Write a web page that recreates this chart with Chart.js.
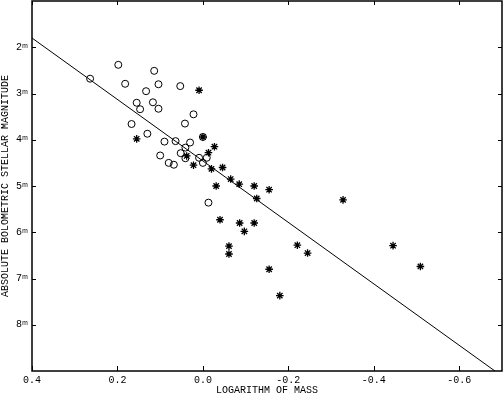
<!DOCTYPE html>
<html><head><meta charset="utf-8">
<script src="https://cdn.jsdelivr.net/npm/chart.js@4/dist/chart.umd.min.js"></script>
<style>html,body{margin:0;padding:0;background:#fff}#wrap{width:503px;height:396px;position:relative}</style>
</head><body><div id="wrap"><canvas id="c"></canvas></div>
<script>
// Open circles
const circleLogMass = [0.264,0.198,0.114,0.182,0.104,0.053,0.133,0.155,0.147,0.117,0.104,0.022,0.167,0.042,0.130,0.090,0.064,0.030,0.041,0.052,0.100,0.080,0.068,0.041,0.009,-0.009,0.000,0.000,-0.013];
const circleMag     = [2.68,2.38,2.51,2.79,2.80,2.84,2.95,3.20,3.34,3.19,3.33,3.45,3.66,3.65,3.87,4.04,4.03,4.06,4.17,4.29,4.34,4.50,4.54,4.40,4.39,4.39,4.50,3.94,5.36];
// Asterisks
const starLogMass = [0.009,0.155,0.000,-0.027,-0.013,0.038,0.022,-0.020,-0.046,-0.065,-0.085,-0.120,-0.155,-0.031,-0.126,-0.040,-0.086,-0.120,-0.097,-0.061,-0.061,-0.221,-0.245,-0.155,-0.180,-0.328,-0.445,-0.509];
const starMag     = [2.93,3.98,3.94,4.15,4.28,4.35,4.55,4.63,4.60,4.85,4.96,5.00,5.08,5.00,5.27,5.73,5.80,5.80,5.98,6.30,6.47,6.28,6.45,6.80,7.37,5.30,6.29,6.74];
// Fitted line
const lineLogMass = [0.4, -0.7];
const lineMag     = [1.80, 9.11];
// Ticks
const xTicks = [0.4, 0.2, 0.0, -0.2, -0.4, -0.6];
const yTicks = [2, 3, 4, 5, 6, 7, 8];
const xTitle = 'LOGARITHM OF MASS';
const yTitle = 'ABSOLUTE BOLOMETRIC STELLAR MAGNITUDE';

const FONT = "'Liberation Mono','DejaVu Sans Mono',monospace";
const pts = (xs, ys) => xs.map((v, i) => ({x: v, y: ys[i]}));
const noPad = s => { s.paddingTop = 0; s.paddingBottom = 0; s.paddingLeft = 0; s.paddingRight = 0; };

const framePlugin = {
  id: 'frame',
  afterDatasetsDraw(chart) {
    const {ctx, chartArea: a, scales: {x, y}} = chart;
    ctx.save();
    ctx.strokeStyle = '#000';
    ctx.lineWidth = 1.5;
    ctx.strokeRect(a.left, a.top, a.right - a.left, a.bottom - a.top);
    ctx.lineWidth = 1;
    ctx.beginPath();
    xTicks.forEach(v => {
      const px = Math.round(x.getPixelForValue(v)) + 0.5;
      ctx.moveTo(px, a.bottom); ctx.lineTo(px, a.bottom - 5);
      ctx.moveTo(px, a.top); ctx.lineTo(px, a.top + 4);
    });
    yTicks.forEach(v => {
      const py = Math.round(y.getPixelForValue(v)) + 0.5;
      ctx.moveTo(a.left, py); ctx.lineTo(a.left + 4, py);
      ctx.moveTo(a.right, py); ctx.lineTo(a.right - 4, py);
    });
    ctx.stroke();
    ctx.restore();
  }
};

new Chart(document.getElementById('c'), {
  type: 'scatter',
  data: {
    datasets: [
      {label: 'fit', type: 'line', data: pts(lineLogMass, lineMag), borderColor: '#000', borderWidth: 1, pointRadius: 0, fill: false, tension: 0},
      {label: 'circles', data: pts(circleLogMass, circleMag), pointStyle: 'circle', pointRadius: 3.5, borderColor: '#000', backgroundColor: 'rgba(0,0,0,0)', borderWidth: 1},
      {label: 'stars', data: pts(starLogMass, starMag), pointStyle: 'star', pointRadius: 3.8, borderColor: '#000', backgroundColor: '#000', borderWidth: 1.3}
    ]
  },
  options: {
    responsive: true, maintainAspectRatio: false, animation: false,
    devicePixelRatio: 1,
    layout: {autoPadding: false, padding: {top: 1, right: 1, left: 0, bottom: 0}},
    plugins: {legend: {display: false}, tooltip: {enabled: false}},
    scales: {
      x: {
        type: 'linear', reverse: true, min: -0.7, max: 0.4,
        afterBuildTicks: s => { s.ticks = xTicks.map(v => ({value: v})); },
        afterFit: s => { s.height = 25; noPad(s); },
        grid: {display: false, drawTicks: false}, border: {display: false},
        ticks: {color: '#000', font: {family: FONT, size: 10}, padding: 3, maxRotation: 0, autoSkip: false,
          callback: v => v.toFixed(1)},
        title: {display: true, text: xTitle, color: '#000', font: {family: FONT, size: 10, lineHeight: 1.2}, padding: {top: 0, bottom: 0}}
      },
      y: {
        type: 'linear', reverse: true, min: 1, max: 9,
        afterBuildTicks: s => { s.ticks = yTicks.map(v => ({value: v})); },
        afterFit: s => { s.width = 32; noPad(s); },
        grid: {display: false, drawTicks: false}, border: {display: false},
        ticks: {color: '#000', font: {family: FONT, size: 10}, padding: 4, autoSkip: false,
          callback: v => v + 'ᵐ'},
        title: {display: true, text: yTitle, color: '#000', font: {family: FONT, size: 10, lineHeight: 1}, padding: {top: 0, bottom: 0}}
      }
    }
  },
  plugins: [framePlugin]
});
</script></body></html>
